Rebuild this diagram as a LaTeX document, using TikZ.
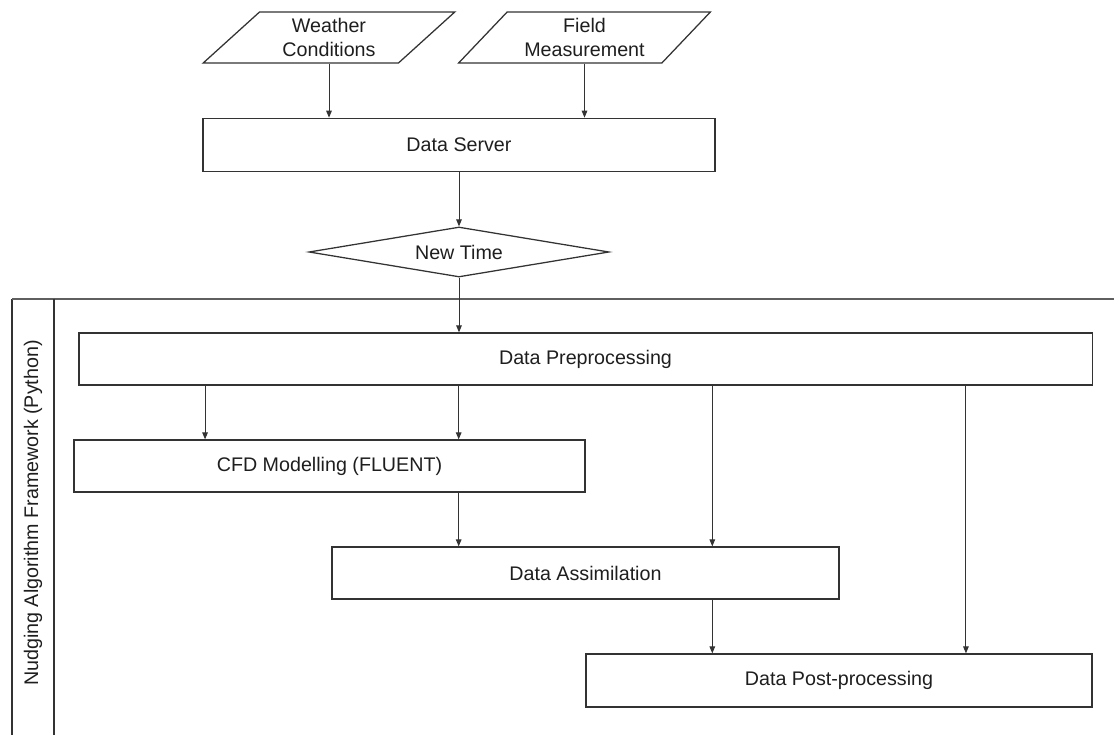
\documentclass[tikz,border=0pt]{standalone}
\usepackage{fontspec}
\setmainfont{Liberation Sans}
\usepackage{xcolor}
\definecolor{lineslate}{RGB}{51, 51, 51}
\definecolor{framegray}{RGB}{95, 95, 95}
\definecolor{textdark}{RGB}{30, 30, 30}
\usepackage{tikz}
\usetikzlibrary{arrows.meta, positioning, calc, shapes.geometric}

\begin{document}
\begin{tikzpicture}[x=0.025cm, y=-0.025cm, >={Triangle[length=5pt, width=4pt]},
    stepbox/.style={draw=lineslate, line width=0.9pt, rectangle, inner sep=0pt,
        minimum height=1.3cm, text=textdark, font=\fontsize{14}{17}\selectfont},
    inputbox/.style={draw=lineslate, line width=0.9pt, trapezium, trapezium left angle=46,
        trapezium right angle=134, trapezium stretches=true, minimum width=6.3cm,
        minimum height=1.275cm, inner sep=0pt, align=center, text=textdark,
        font=\fontsize{14}{17.5}\selectfont},
    decisionbox/.style={draw=lineslate, line width=0.9pt, diamond, aspect=6,
        minimum width=7.5cm, minimum height=1.25cm, inner sep=0pt, text=textdark,
        font=\fontsize{14}{17}\selectfont},
    flow/.style={->, draw=lineslate, line width=0.7pt}]
    \useasboundingbox (0,0) rectangle (1114,735);

    % inputs and server
    \node[inputbox] (weather) at (329,37.5) {Weather\\Conditions};
    \node[inputbox] (field) at (584.5,37.5) {Field\\Measurement};
    \node[stepbox, minimum width=12.8cm, minimum height=1.335cm] (server) at (459,145) {Data Server};
    \node[decisionbox] (newtime) at (459,252) {New Time};

    % framework frame
    \draw[lineslate, line width=0.8pt] (12,735) -- (12,299);
    \draw[framegray, line width=1.5pt] (12,299) -- (1114,299);
    \draw[lineslate, line width=0.8pt] (54,299) -- (54,735);
    \node[rotate=90, text=textdark, font=\fontsize{14}{17}\selectfont] (framelabel) at (33,513)
        {Nudging Algorithm Framework (Python)};

    % processing steps
    \node[stepbox, minimum width=25.325cm] (prep) at (585.5,359) {Data Preprocessing};
    \node[stepbox, minimum width=12.775cm] (cfd) at (329.5,466) {CFD Modelling (FLUENT)};
    \node[stepbox, minimum width=12.675cm] (assim) at (585.5,573) {Data Assimilation};
    \node[stepbox, minimum width=12.65cm, minimum height=1.325cm] (post) at (839,680.5) {Data Post-processing};

    % connectors
    \draw[flow] (weather.south) -- (weather.south |- server.north);
    \draw[flow] (field.south) -- (field.south |- server.north);
    \draw[flow] (server.south) -- (newtime.north);
    \draw[flow] (newtime.south) -- (newtime.south |- prep.north);
    \draw[flow] ($(prep.south west)!0.125!(prep.south east)$) coordinate (tapA) -- (tapA |- cfd.north);
    \draw[flow] ($(prep.south west)!0.375!(prep.south east)$) coordinate (tapB) -- (tapB |- cfd.north);
    \draw[flow] ($(prep.south west)!0.625!(prep.south east)$) coordinate (tapC) -- (tapC |- assim.north);
    \draw[flow] ($(prep.south west)!0.875!(prep.south east)$) coordinate (tapD) -- (tapD |- post.north);
    \draw[flow] (tapB |- cfd.south) -- (tapB |- assim.north);
    \draw[flow] (tapC |- assim.south) -- (tapC |- post.north);
\end{tikzpicture}
\end{document}
